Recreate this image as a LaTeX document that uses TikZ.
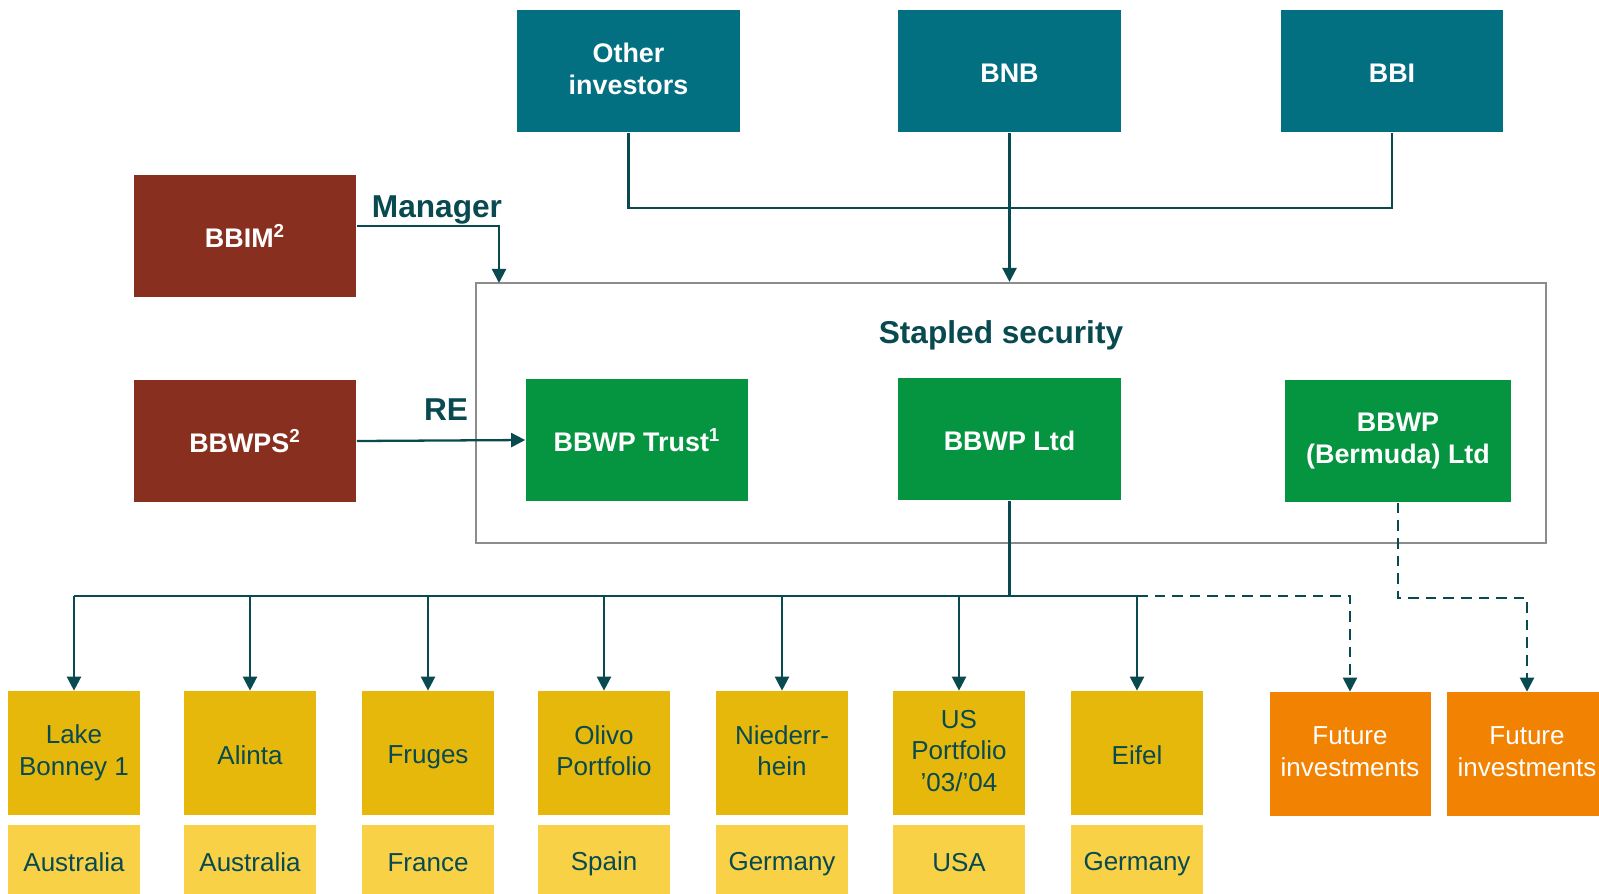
\documentclass[tikz,border=0pt]{standalone}
\usepackage{fontspec}
\setmainfont{Liberation Sans}
\usetikzlibrary{arrows.meta}

\definecolor{petrol}{RGB}{3,112,130}
\definecolor{brick}{RGB}{137,47,31}
\definecolor{leaf}{RGB}{5,149,64}
\definecolor{gold}{RGB}{230,184,12}
\definecolor{sand}{RGB}{248,209,71}
\definecolor{amber}{RGB}{242,130,2}
\definecolor{ink}{RGB}{8,74,80}
\definecolor{rim}{RGB}{140,140,140}

% strut that sits a bit lower than \strut
\newcommand{\padline}{\rule[-0.15\baselineskip]{0pt}{\baselineskip}}

\tikzset{
    box/.style={rectangle, inner sep=0pt, align=center, text=white,
        font=\fontsize{15.3}{18}\bfseries\selectfont,
        execute at begin node=\padline, execute at end node=\padline,
        minimum width=4.46cm, minimum height=2.46cm},
    investor/.style={box, fill=petrol},
    owner/.style={box, fill=brick},
    entity/.style={box, fill=leaf},
    asset/.style={box, fill=gold, text=ink, font=\fontsize{14.8}{18}\selectfont,
        minimum width=2.64cm, minimum height=2.48cm},
    country/.style={asset, fill=sand, minimum height=1.4cm},
    future/.style={asset, fill=amber, text=white, minimum width=3.22cm},
    label/.style={text=ink, font=\fontsize{18}{20}\bfseries\selectfont},
    link/.style={draw=ink, line width=1.3pt},
    arr/.style={link, -{Triangle[width=8pt,length=8pt]}},
}

\begin{document}
\begin{tikzpicture}[x=0.02cm, y=-0.02cm]

    % the page
    \useasboundingbox[fill=white] (0,0) rectangle (1599,893);

    % investors on top
    \node[investor] (other) at (628.5,71) {Other\\investors};
    \node[investor] (bnb) at (1009.5,71) {BNB};
    \node[investor] (bbi) at (1392,71) {BBI};

    % manager and RE
    \node[owner] (bbim) at (245,236) {BBIM\textsuperscript{2}};
    \node[owner] (bbwps) at (245,441) {BBWPS\textsuperscript{2}};

    % the stapled security
    \node[draw=rim, line width=1.2pt, minimum width=21.4cm, minimum height=5.2cm,
        inner sep=0pt] (frame) at (1011,413) {};
    \node[label] (staple) at (1001,335) {Stapled security};
    \node[entity] (trust) at (637,440) {BBWP Trust\textsuperscript{1}};
    \node[entity] (ltd) at (1009.5,439) {BBWP Ltd};
    \node[entity, minimum width=4.52cm] (bermuda) at (1398,441) {BBWP\\(Bermuda) Ltd};

    % the assets
    \foreach \x/\name/\land [count=\i] in {74/{Lake\\Bonney 1}/Australia,
            250/Alinta/Australia, 428/Fruges/France, 604/{Olivo\\Portfolio}/Spain,
            782/{Niederr-\\hein}/Germany, 959/{US\\Portfolio\\'03/'04}/USA,
            1137/Eifel/Germany} {
        \node[asset] (a\i) at (\x,753) {\name};
        \node[country] (c\i) at (\x,860) {\land};
    }
    \node[future] (fut1) at (1350,754) {Future\\investments};
    \node[future] (fut2) at (1527,754) {Future\\investments};

    % the buses
    \coordinate (top) at (0,208);
    \coordinate (mid) at (0,596);
    \coordinate (low) at (0,598);
    \coordinate (mgrin) at (499,283);

    % connectors
    \draw[link] (other.south) |- (bbi.south |- top) -- (bbi.south);
    \draw[arr] (bnb.south) -- (bnb.south |- frame.north);
    \draw[arr] ([yshift=5.5pt]bbim.east) -| (mgrin);
    \node[label, anchor=south] (mgr) at (437,230) {Manager};
    \draw[arr] (bbwps.east) -- (trust.west);
    \node[label, anchor=south] (re) at (446,427) {RE};

    \draw[link] (ltd.south) -- (ltd.south |- mid);
    \draw[link] (a1.north |- mid) -- (a7.north |- mid);
    \foreach \i in {1,...,7} {
        \draw[arr] (a\i.north |- mid) -- (a\i.north);
    }
    \draw[arr, dashed, dash pattern=on 6pt off 4pt] (a7.north |- mid) -| (fut1.north);
    \draw[arr, dashed, dash pattern=on 6pt off 4pt] (bermuda.south) -- (bermuda.south |- low) -| (fut2.north);

\end{tikzpicture}
\end{document}
